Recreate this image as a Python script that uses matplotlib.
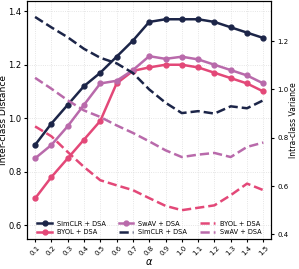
import numpy as np
import matplotlib
matplotlib.use("Agg")
import matplotlib.pyplot as plt

plt.rcParams.update({"font.size": 6, "legend.fontsize": 4.8,
                     "xtick.major.size": 2.5, "ytick.major.size": 2.5})

alpha = [0.1, 0.2, 0.3, 0.4, 0.5, 0.6, 0.7, 0.8, 0.9, 1.0, 1.1, 1.2, 1.3, 1.4, 1.5]
x_labels = ["0.1", "0.2", "0.3", "0.4", "0.5", "0.6", "0.7", "0.8",
            "0.9", "1.0", "1.1", "1.2", "1.3", "1.4", "1.5"]

# inter-class distance (left axis)
simclr_dist = [0.90, 0.98, 1.05, 1.12, 1.17, 1.23, 1.29, 1.36, 1.37, 1.37, 1.37, 1.36, 1.34, 1.32, 1.30]
byol_dist = [0.70, 0.78, 0.85, 0.92, 0.99, 1.13, 1.177, 1.19, 1.20, 1.20, 1.19, 1.17, 1.15, 1.13, 1.10]
swav_dist = [0.85, 0.90, 0.97, 1.05, 1.13, 1.14, 1.18, 1.232, 1.222, 1.23, 1.22, 1.20, 1.18, 1.16, 1.13]

# intra-class variance (right axis)
simclr_var = [1.30, 1.257, 1.216, 1.168, 1.131, 1.108, 1.068, 1.00, 0.945, 0.902, 0.91, 0.90, 0.93, 0.922, 0.955]
byol_var = [0.847, 0.806, 0.741, 0.679, 0.624, 0.603, 0.583, 0.55, 0.518, 0.50, 0.51, 0.52, 0.562, 0.61, 0.583]
swav_var = [1.048, 1.003, 0.955, 0.913, 0.886, 0.851, 0.820, 0.785, 0.748, 0.72, 0.73, 0.737, 0.72, 0.762, 0.78]

NAVY, PINK, PURPLE = "#1c2548", "#e34878", "#b96aab"

fig = plt.figure(figsize=(2.99, 2.69), dpi=100)
ax = fig.add_axes([0.09, 0.11, 0.818, 0.888])
ax2 = ax.twinx()

h1, = ax.plot(alpha, simclr_dist, "o-", color=NAVY, lw=1.8, ms=3.5)
h2, = ax.plot(alpha, byol_dist, "o-", color=PINK, lw=1.8, ms=3.5)
h3, = ax.plot(alpha, swav_dist, "o-", color=PURPLE, lw=1.8, ms=3.5)
h4, = ax2.plot(alpha, simclr_var, "--", color=NAVY, lw=1.8)
h5, = ax2.plot(alpha, byol_var, "--", color=PINK, lw=1.8)
h6, = ax2.plot(alpha, swav_var, "--", color=PURPLE, lw=1.8)

ax.set_xlim(0.05, 1.55)
ax.set_ylim(0.547, 1.44)
ax2.set_ylim(0.379, 1.368)
ax.set_yticks([0.6, 0.8, 1.0, 1.2, 1.4])
ax2.set_yticks([0.4, 0.6, 0.8, 1.0, 1.2])
ax.set_xticks(alpha)
ax.set_xticklabels(x_labels, rotation=45)
ax.grid(True, color="#dddddd", lw=0.6, ls=":")
ax.tick_params(axis="x", labelsize=5, pad=1.5)
ax.tick_params(axis="y", labelsize=6, pad=1.5)
ax2.tick_params(axis="y", labelsize=5, pad=1.5)

ax.set_xlabel(r"$\alpha$", fontsize=7, labelpad=0)
ax.set_ylabel("Inter-class Distance", fontsize=6.6, labelpad=0)
ax2.set_ylabel("Intra-class Variance", fontsize=5.5, labelpad=0.5)

ax.legend([h1, h2, h3, h4, h5, h6],
          ["SimCLR + DSA", "BYOL + DSA", "SwAV + DSA", "SimCLR + DSA", "BYOL + DSA", "SwAV + DSA"],
          ncol=3, loc="lower center", frameon=False, handlelength=2.2,
          columnspacing=2.0, handletextpad=0.7, borderaxespad=0.2, labelspacing=0.4)

fig.savefig("out.png", dpi=100)
